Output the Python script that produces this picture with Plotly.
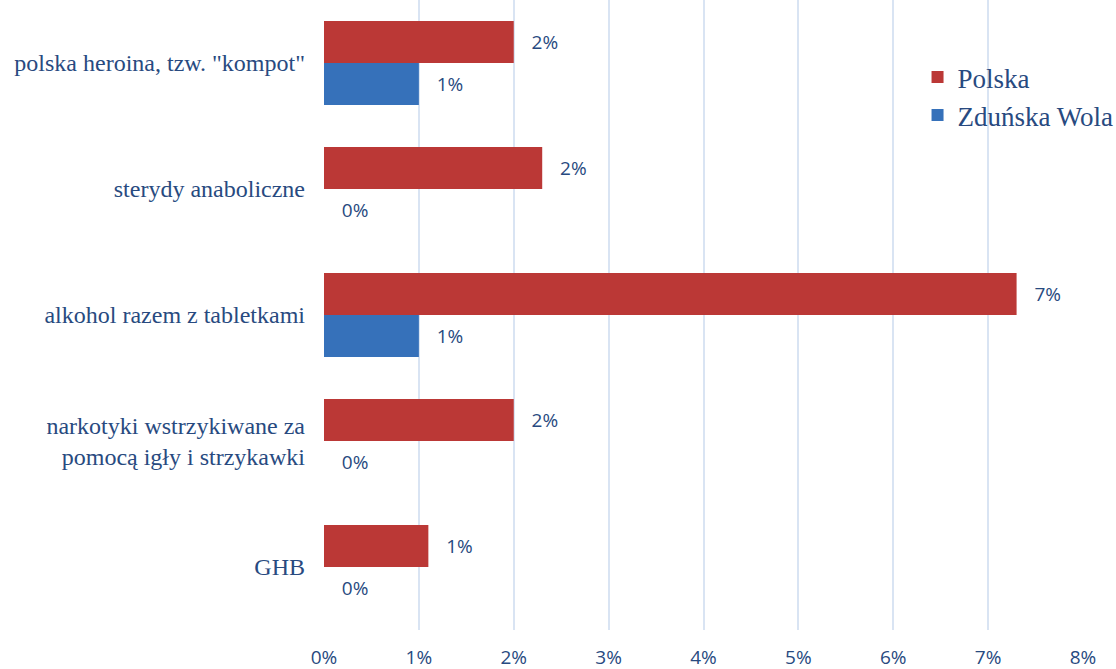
import plotly.graph_objects as go

categories = ['polska heroina, tzw. "kompot"', "sterydy anaboliczne", "alkohol razem z tabletkami",
              "narkotyki wstrzykiwane za<br>pomocą igły i strzykawki", "GHB"]
polska = [2.0, 2.3, 7.3, 2.0, 1.1]
zdunska = [1.0, 0.0, 1.0, 0.0, 0.0]
x_ticks = [0, 1, 2, 3, 4, 5, 6, 7, 8]

txt_color = "#284a80"

fig = go.Figure()
fig.add_trace(go.Bar(
    y=categories, x=polska, name="Polska", orientation="h",
    marker=dict(color="#bb3836", line=dict(width=0)),
    text=[f"   {v:.0f}%" for v in polska], textposition="outside", cliponaxis=False,
    textfont=dict(family="Open Sans", size=19, color=txt_color),
))
fig.add_trace(go.Bar(
    y=categories, x=zdunska, name="Zduńska Wola", orientation="h",
    marker=dict(color="#3671ba", line=dict(width=0)),
    text=[f"   {v:.0f}%" for v in zdunska], textposition="outside", cliponaxis=False,
    textfont=dict(family="Open Sans", size=19, color=txt_color),
))

fig.update_layout(
    width=1116, height=669,
    margin=dict(l=324, r=33, t=0, b=39, autoexpand=False),
    paper_bgcolor="white", plot_bgcolor="white",
    barmode="group", bargap=1/3, bargroupgap=0,
    legend=dict(x=0.782, y=0.916, xanchor="left", yanchor="top", bgcolor="rgba(0,0,0,0)",
                font=dict(family="Liberation Serif", size=27, color=txt_color),
                traceorder="normal", itemwidth=30),
    xaxis=dict(range=[0, 8], tickvals=x_ticks, ticktext=[f"{t}%" for t in x_ticks],
               showgrid=True, gridcolor="#d9e4f3", gridwidth=1.5, zeroline=False,
               showline=False, ticks="", ticklabelstandoff=14,
               tickfont=dict(family="Open Sans", size=19, color=txt_color)),
    yaxis=dict(autorange="reversed", showgrid=False, showline=False, ticks="",
               ticklabelstandoff=18,
               tickfont=dict(family="Liberation Serif", size=24, color=txt_color)),
)
fig.write_html("out.html", config={"displayModeBar": False},
               post_script="document.body.style.margin='0';document.body.style.padding='0';")
